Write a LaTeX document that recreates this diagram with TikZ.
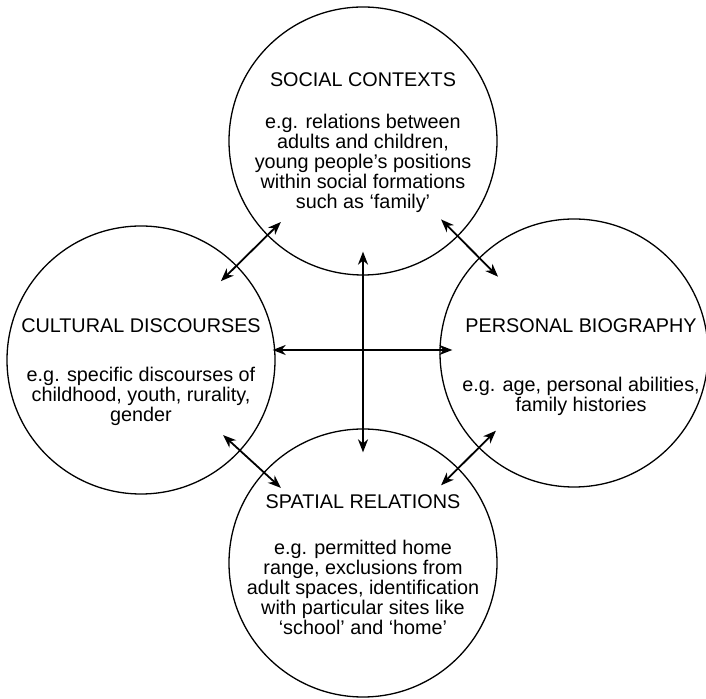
\documentclass[tikz,border=0pt]{standalone}
\usepackage{fontspec}
\setmainfont{Liberation Sans}
\usetikzlibrary{arrows.meta,calc}

\tikzset{
  sphere/.style={draw, circle, line width=1.3pt, minimum size=268pt, inner sep=0pt},
  blurb/.style={align=center, anchor=north, inner sep=0pt, font=\fontsize{19.8}{19.8}\selectfont},
  link/.style={{Stealth[length=13pt,width=10pt,inset=4pt]}-{Stealth[length=13pt,width=10pt,inset=4pt]}, line width=1.8pt},
}

\begin{document}
\begin{tikzpicture}[x=1pt,y=1pt]
  \useasboundingbox (0,0) rectangle (706,698);

  % the four spheres
  \node[sphere] (social) at (363,557) {};
  \node[sphere] (cultural) at (141,338) {};
  \node[sphere] (personal) at (574,345) {};
  \node[sphere] (spatial) at (363,135) {};
  \coordinate (hub) at (363,348);

  % what each one holds
  \node[blurb] (socialtext) at ([yshift=69pt]social.center)
    {SOCIAL CONTEXTS\\[23pt] e.g. relations between\\ adults and children,\\ young people's positions\\ within social formations\\ such as `family'};
  \node[blurb] (culturaltext) at ([yshift=42pt]cultural.center)
    {CULTURAL DISCOURSES\\[30pt] e.g. specific discourses of\\ childhood, youth, rurality,\\ gender};
  \node[blurb] (personaltext) at ([xshift=7pt,yshift=35pt]personal.center)
    {PERSONAL BIOGRAPHY\\[40pt] e.g. age, personal abilities,\\ family histories};
  \node[blurb] (spatialtext) at ([yshift=69pt]spatial.center)
    {SPATIAL RELATIONS\\[27pt] e.g. permitted home\\ range, exclusions from\\ adult spaces, identification\\ with particular sites like\\ `school' and `home'};

  % links across the middle
  \draw[link] ([yshift=24pt]social.south) -- ([yshift=-24pt]spatial.north);
  \draw[link] ([xshift=-3pt]cultural.east |- hub) -- ([xshift=13pt]personal.west |- hub);

  % links between neighbours
  \draw[link] ($(social)!0.37!(cultural)$) -- ($(social)!0.64!(cultural)$);
  \draw[link] ($(social)!0.37!(personal)$) -- ($(social)!0.64!(personal)$);
  \draw[link] ($(cultural)!0.37!(spatial)$) -- ($(cultural)!0.63!(spatial)$);
  \draw[link] ($(personal)!0.37!(spatial)$) -- ($(personal)!0.63!(spatial)$);
\end{tikzpicture}
\end{document}
